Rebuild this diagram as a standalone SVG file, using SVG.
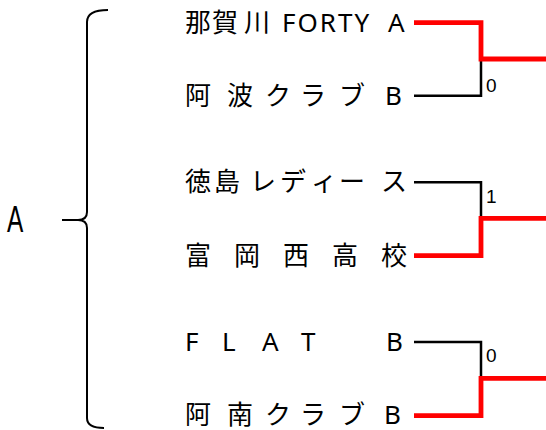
<svg xmlns="http://www.w3.org/2000/svg" width="546" height="430" viewBox="0 0 546 430">
<style>
.t{font-family:"Noto Sans","Noto Sans CJK JP",sans-serif;font-size:26px;fill:#000}
.s{font-family:"Liberation Sans",Arial,sans-serif;font-size:19px;fill:#000}
.blk{fill:none;stroke:#000;stroke-width:2.5}
.red{fill:none;stroke:#ff0000;stroke-width:4.8}
</style>
<rect width="546" height="430" fill="#fff"/>
<g id="group-label">
<text transform="translate(7,232) scale(0.66,1)" style="font-family:'Liberation Sans',Arial,sans-serif;font-size:37px;fill:#000">A</text>
</g>
<g id="brace">
<path d="M108,10 Q87,10 87,22 L87,212 Q87,220 78,220 L62,220 L78,220 Q87,220 87,228 L87,418 Q87,428 104,428" fill="none" stroke="#000" stroke-width="2"/>
</g>
<g id="team1"><text class="t" y="32"><tspan x="185">那</tspan><tspan x="212">賀</tspan><tspan x="244">川</tspan><tspan x="282" letter-spacing="2">FORTY</tspan><tspan x="388">A</tspan></text></g>
<g id="team2"><text class="t" y="104.5" x="185 227 265 300 339 385">阿波クラブB</text></g>
<g id="team3"><text class="t" y="191" x="185 214 250 280 311 339 381">徳島レディース</text></g>
<g id="team4"><text class="t" y="264.5" x="185 234 283 332 381">富岡西高校</text></g>
<g id="team5"><text class="t" y="351" x="185 222 262 301 386">FLATB</text></g>
<g id="team6"><text class="t" y="423.5" x="185 227 265 300 339 384">阿南クラブB</text></g>
<g id="connectors">
<path class="blk" d="M414,95.7 H481 V59"/>
<path class="blk" d="M414,182.3 H481 V218.3"/>
<path class="blk" d="M414,342 H481 V378.3"/>
<path class="red" d="M414,22.7 H481 V59 H546"/>
<path class="red" d="M414,255.7 H481 V218.3 H546"/>
<path class="red" d="M414,415.7 H481 V378.3 H546"/>
</g>
<g id="scores">
<text class="s" x="486" y="92">0</text>
<text class="s" x="486" y="203">1</text>
<text class="s" x="486" y="362">0</text>
</g>
</svg>
